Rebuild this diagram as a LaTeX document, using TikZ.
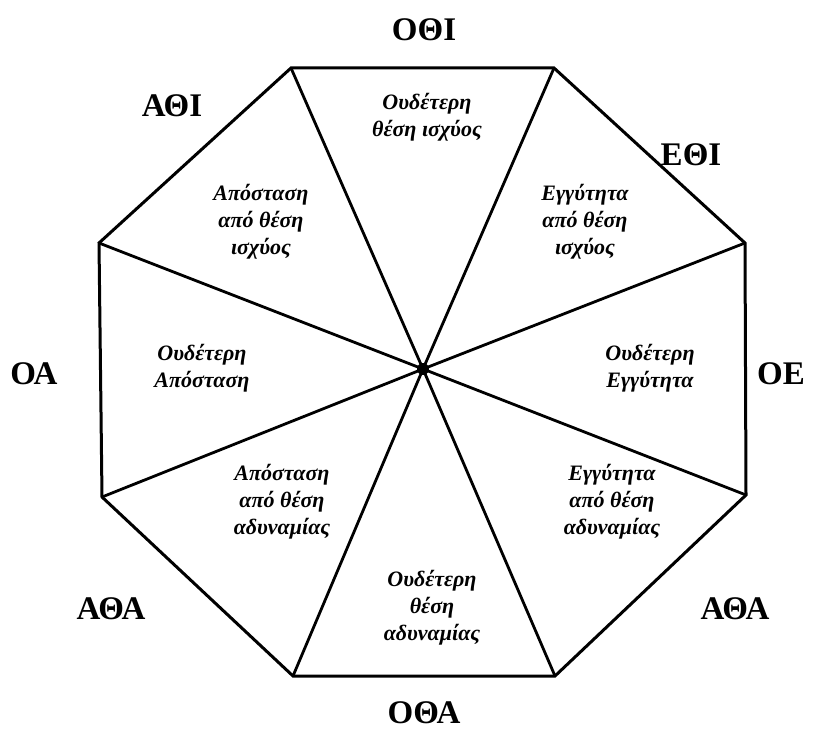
\documentclass[tikz,border=0pt]{standalone}
\usepackage{fontspec}
\setmainfont{Liberation Serif}
\usetikzlibrary{positioning}

\begin{document}
\begin{tikzpicture}[
    x=0.5pt, y=-0.5pt,
    edge/.style={line width=1.5pt, line join=miter},
    spoke/.style={line width=1.4pt},
    zone/.style={align=center, inner sep=1pt, font=\bfseries\itshape\fontsize{11}{13.5}\selectfont},
    pole/.style={inner sep=0pt, font=\bfseries\fontsize{16.5}{18}\selectfont}
]
\useasboundingbox (0,0) rectangle (819,733);

% corners of the octagon
\coordinate (ntl) at (291,68);
\coordinate (ntr) at (554,68);
\coordinate (etr) at (745,243);
\coordinate (ebr) at (746,495);
\coordinate (sbr) at (555,676);
\coordinate (sbl) at (293,676);
\coordinate (wbl) at (102,497);
\coordinate (wtl) at (99,243);
\coordinate (mid) at (423,369);

\draw[edge] (ntl) -- (ntr) -- (etr) -- (ebr) -- (sbr) -- (sbl) -- (wbl) -- (wtl) -- cycle;
\foreach \v in {ntl,ntr,etr,ebr,sbr,sbl,wbl,wtl}
    \draw[spoke] (mid) -- (\v);
\fill (mid) circle (6);

% sectors
\node[zone] (nzone) at (427,117) {Ουδέτερη\\θέση ισχύος};
\node[zone] (nezone) at (585,222) {Εγγύτητα\\από θέση\\ισχύος};
\node[zone] (nwzone) at (261,222) {Απόσταση\\από θέση\\ισχύος};
\node[zone] (wzone) at (202,368) {Ουδέτερη\\Απόσταση};
\node[zone] (ezone) at (650,368) {Ουδέτερη\\Εγγύτητα};
\node[zone] (swzone) at (282,502) {Απόσταση\\από θέση\\αδυναμίας};
\node[zone] (sezone) at (612,502) {Εγγύτητα\\από θέση\\αδυναμίας};
\node[zone] (szone) at (432,608) {Ουδέτερη\\θέση\\αδυναμίας};

% outer labels
\node[pole] (othi) at (424,30) {ΟΘΙ};
\node[pole] (athi) at (172,106) {ΑΘΙ};
\node[pole] (ethi) at (691,155) {ΕΘΙ};
\node[pole] (oa) at (34,374) {ΟΑ};
\node[pole] (oe) at (781,374) {ΟΕ};
\node[pole] (atha) at (111,609) {ΑΘΑ};
\node[pole] (athb) at (735,609) {ΑΘΑ};
\node[pole] (otha) at (424,713) {ΟΘΑ};
\end{tikzpicture}
\end{document}
